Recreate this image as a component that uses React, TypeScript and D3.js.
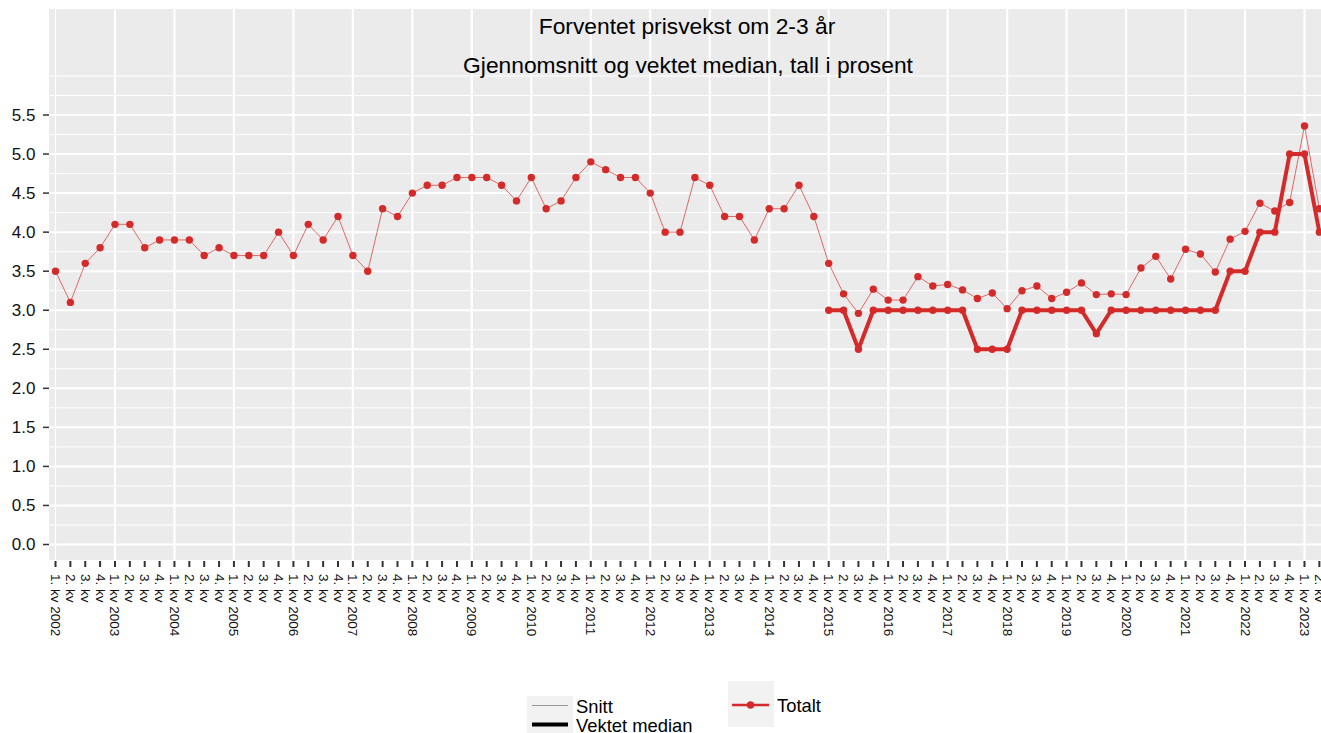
import React from "react";
import * as d3 from "d3";

const years = [2002, 2003, 2004, 2005, 2006, 2007, 2008, 2009, 2010, 2011, 2012, 2013, 2014, 2015, 2016, 2017, 2018, 2019, 2020, 2021, 2022, 2023];
const quartersInLastYear = 2;

// Snitt (mean), 2002Q1 – 2023Q2
const snitt = [
  3.5, 3.1, 3.6, 3.8,
  4.1, 4.1, 3.8, 3.9,
  3.9, 3.9, 3.7, 3.8,
  3.7, 3.7, 3.7, 4.0,
  3.7, 4.1, 3.9, 4.2,
  3.7, 3.5, 4.3, 4.2,
  4.5, 4.6, 4.6, 4.7,
  4.7, 4.7, 4.6, 4.4,
  4.7, 4.3, 4.4, 4.7,
  4.9, 4.8, 4.7, 4.7,
  4.5, 4.0, 4.0, 4.7,
  4.6, 4.2, 4.2, 3.9,
  4.3, 4.3, 4.6, 4.2,
  3.6, 3.21, 2.96, 3.27,
  3.13, 3.13, 3.43, 3.31,
  3.33, 3.26, 3.15, 3.22,
  3.02, 3.25, 3.31, 3.15,
  3.23, 3.35, 3.2, 3.21,
  3.2, 3.54, 3.69, 3.4,
  3.78, 3.72, 3.49, 3.91,
  4.01, 4.37, 4.27, 4.38,
  5.36, 4.3,
];

// Vektet median, 2015Q1 – 2023Q2
const medianStartIndex = 52;
const vektetMedian = [
  3.0, 3.0, 2.5, 3.0,
  3.0, 3.0, 3.0, 3.0,
  3.0, 3.0, 2.5, 2.5,
  2.5, 3.0, 3.0, 3.0,
  3.0, 3.0, 2.7, 3.0,
  3.0, 3.0, 3.0, 3.0,
  3.0, 3.0, 3.0, 3.5,
  3.5, 4.0, 4.0, 5.0,
  5.0, 4.0,
];

const yTicks = [0, 0.5, 1, 1.5, 2, 2.5, 3, 3.5, 4, 4.5, 5, 5.5];
const yMinor = [0.25, 0.75, 1.25, 1.75, 2.25, 2.75, 3.25, 3.75, 4.25, 4.75, 5.25, 5.75, 6.0];

const titleLines = ["Forventet prisvekst om 2-3 år", "Gjennomsnitt og vektet median, tall i prosent"];
const legendStyle = ["Snitt", "Vektet median"];
const legendGroup = ["Totalt"];

const quarterLabels: string[] = [];
years.forEach((yr, yi) => {
  const nq = yi === years.length - 1 ? quartersInLastYear : 4;
  for (let q = 1; q <= nq; q++) quarterLabels.push(q === 1 ? `1. kv ${yr}` : `${q}. kv`);
});

const W = 1321;
const H = 733;
const FONT = "'Liberation Sans', Arial, Helvetica, sans-serif";
const RED = "#D42A2A";

export default function App() {
  const panel = { left: 49, right: 1330, top: 9, bottom: 560 };
  const x = d3.scaleLinear().domain([0, 84]).range([55.5, 1304.5]);
  const y = d3.scaleLinear().domain([0, 5.5]).range([544.5, 115]);

  const meanPts = snitt.map((v, i) => [x(i), y(v)] as [number, number]);
  const medPts = vektetMedian.map((v, i) => [x(i + medianStartIndex), y(v)] as [number, number]);
  const line = d3.line<[number, number]>();

  const yearIdx = quarterLabels.map((l, i) => (l.startsWith("1.") ? i : -1)).filter((i) => i >= 0);

  return (
    <svg width={W} height={H} style={{ position: "absolute", left: 0, top: 0 }} fontFamily={FONT}>
      <rect x={0} y={0} width={W} height={H} fill="#fff" />
      <rect x={panel.left} y={panel.top} width={panel.right - panel.left} height={panel.bottom - panel.top} fill="#EBEBEB" />
      {yMinor.map((v) => (
        <line key={"mn" + v} x1={panel.left} x2={panel.right} y1={y(v)} y2={y(v)} stroke="#fff" strokeWidth={1} />
      ))}
      {yTicks.map((v) => (
        <line key={"mj" + v} x1={panel.left} x2={panel.right} y1={y(v)} y2={y(v)} stroke="#fff" strokeWidth={2} />
      ))}
      {yearIdx.map((i) => (
        <line key={"vx" + i} x1={x(i)} x2={x(i)} y1={panel.top} y2={panel.bottom} stroke="#fff" strokeWidth={i === 0 ? 1.2 : 2.2} />
      ))}

      {/* titles */}
      <text x={687} y={34} textAnchor="middle" fontSize={22.8} fill="#000">{titleLines[0]}</text>
      <text x={688} y={73} textAnchor="middle" fontSize={22.8} fill="#000">{titleLines[1]}</text>

      {/* series */}
      <path d={line(meanPts) || ""} fill="none" stroke={RED} strokeOpacity={0.75} strokeWidth={0.9} />
      {meanPts.map((p, i) => (
        <circle key={"mp" + i} cx={p[0]} cy={p[1]} r={3.7} fill={RED} />
      ))}
      <path d={line(medPts) || ""} fill="none" stroke={RED} strokeWidth={4} strokeLinejoin="round" />
      {medPts.map((p, i) => (
        <circle key={"dp" + i} cx={p[0]} cy={p[1]} r={3.7} fill={RED} />
      ))}

      {/* y axis */}
      {yTicks.map((v) => (
        <g key={"yt" + v}>
          <line x1={43} x2={49} y1={y(v)} y2={y(v)} stroke="#333" strokeWidth={1.5} />
          <text x={35.5} y={y(v)} textAnchor="end" dominantBaseline="central" fontSize={17} fill="#111">
            {d3.format(".1f")(v)}
          </text>
        </g>
      ))}

      {/* x axis */}
      {quarterLabels.map((lab, i) => (
        <g key={"xt" + i}>
          <line x1={x(i)} x2={x(i)} y1={panel.bottom + 1} y2={panel.bottom + 7} stroke="#333" strokeWidth={2} />
          <text
            transform={`translate(${x(i)},${panel.bottom + 14}) rotate(90)`}
            textAnchor="start"
            dominantBaseline="central"
            fontSize={13.5}
            fill="#111"
          >
            {lab}
          </text>
        </g>
      ))}

      {/* legend */}
      <rect x={527} y={696} width={46} height={40} fill="#F2F2F2" />
      <line x1={532} x2={568} y1={705.5} y2={705.5} stroke="#999" strokeWidth={1.2} />
      <line x1={532} x2={568} y1={724.5} y2={724.5} stroke="#000" strokeWidth={4} />
      <text x={576} y={713} fontSize={18.4} fill="#000">{legendStyle[0]}</text>
      <text x={576} y={732} fontSize={18.4} fill="#000">{legendStyle[1]}</text>

      <rect x={728} y={681} width={46} height={46} fill="#F2F2F2" />
      <line x1={732} x2={769} y1={705} y2={705} stroke={RED} strokeWidth={2.5} />
      <circle cx={750.5} cy={705} r={3.7} fill={RED} />
      <text x={777} y={712} fontSize={18.4} fill="#000">{legendGroup[0]}</text>
    </svg>
  );
}
